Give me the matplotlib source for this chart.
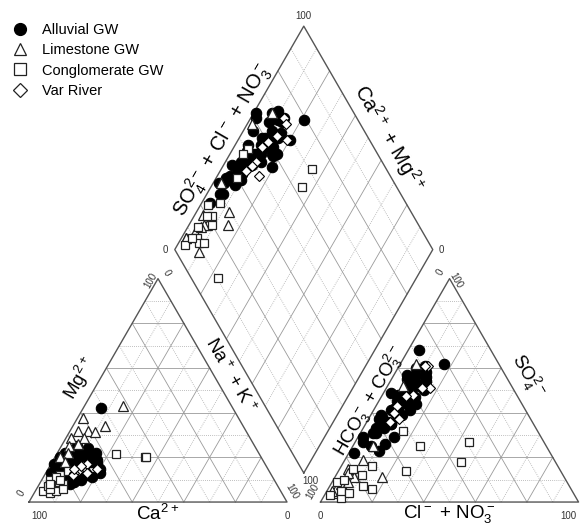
import numpy as np
import matplotlib.pyplot as plt
from matplotlib.lines import Line2D

plt.rcParams['font.family'] = ['Liberation Sans', 'DejaVu Sans']
plt.rcParams['mathtext.fontset'] = 'custom'
plt.rcParams['mathtext.rm'] = 'Liberation Sans'
plt.rcParams['mathtext.default'] = 'regular'

# compositions in meq %: Na+K, Mg, SO4, Cl (Ca and HCO3 are the rest)
alluvial_nak = [3, 4, 5, 6, 8, 5, 7, 10, 3, 9, 12, 6, 14, 4, 11, 16, 8, 13, 18, 7,
                2, 20, 15, 10, 1, 13, 21, 7, 12, 17, 9, 4, 19, 11, 2, 6, 15, 9, 5,
                8, 10, 12, 6, 9, 11, 13, 7, 10, 14, 8, 12, 9, 11, 6, 10, 13, 7, 15, 9]
alluvial_mg = [12, 15, 10, 20, 14, 18, 9, 13, 22, 17, 11, 25, 15, 16, 20, 12, 23, 9, 17, 19,
               20, 15, 10, 14, 17, 21, 13, 42, 8, 19, 11, 9, 11, 24, 13, 7, 22, 16, 12,
               15, 17, 14, 18, 19, 16, 13, 21, 12, 18, 16, 20, 13, 15, 17, 22, 16, 14, 18, 20]
alluvial_so4 = [22, 23, 27, 29, 29, 33, 35, 34, 37, 39, 41, 42, 45, 46, 48, 50, 50, 52, 53, 54,
                55, 56, 57, 58, 57, 68, 62, 36, 44, 47, 26, 31, 43, 38, 25, 40, 60, 61, 49,
                36, 44, 48, 31, 41, 53, 55, 33, 47, 51, 39, 45, 43, 57, 35, 49, 59, 38, 52, 46]
alluvial_cl = [2, 11, 3, 2, 14, 5, 10, 7, 4, 4, 14, 8, 8, 11, 6, 9, 15, 12, 8, 14,
               6, 13, 8, 12, 5, 4, 17, 6, 15, 12, 12, 5, 13, 11, 7, 9, 7, 10, 3,
               8, 9, 10, 6, 7, 11, 9, 8, 13, 10, 12, 7, 9, 12, 10, 8, 11, 5, 9, 13]

limestone_nak = [15, 12.5, 2, 7, 3, 2, 7, 3, 10, 4, 2, 6, 5]
limestone_mg = [43, 34, 37.5, 32, 32, 28.5, 28.5, 25, 31.5, 22, 20, 26, 18]
limestone_so4 = [19, 11, 4, 15, 25, 52, 62, 11, 6, 8, 5, 13, 9]
limestone_cl = [7, 18.5, 3, 3, 8, 6, 6, 7.5, 3, 4, 2, 4, 6]

conglo_nak = [3, 6, 8, 4, 7, 5, 9, 3, 23, 35, 35.5, 6, 8, 5, 4, 7, 10]
conglo_mg = [5, 4, 5, 7, 9, 6, 8, 10, 21.5, 20, 20, 12, 14, 11, 8, 10, 6]
conglo_so4 = [3, 5, 9, 2, 12, 7, 15, 6, 5, 27, 18, 25, 14, 32, 10, 16, 4]
conglo_cl = [2, 6, 2, 7, 10, 13, 5, 17, 5.5, 44, 45.5, 26, 26, 16, 4, 12, 9]

river_nak = [13, 19, 15, 14, 12, 11, 12, 11, 10, 16]
river_mg = [16, 15, 14, 17, 14, 13, 16, 12, 15, 13]
river_so4 = [61, 51, 61, 51, 48, 47.5, 43, 40, 36, 37]
river_cl = [11, 17, 10, 14, 12, 9.5, 8, 8.5, 9, 12]

GAP = 13.0
H = np.sqrt(3) / 2
X2 = 100 + GAP
BX, BY = 100 + GAP / 2, GAP * H


def cation_xy(nak, mg):
    nak, mg = np.asarray(nak, float), np.asarray(mg, float)
    return nak + mg / 2, mg * H


def anion_xy(so4, cl):
    so4, cl = np.asarray(so4, float), np.asarray(cl, float)
    return X2 + cl + so4 / 2, so4 * H


def diamond_xy(nak, so4, cl):
    m = (100 - np.asarray(nak, float)) / 100
    s = (np.asarray(so4, float) + np.asarray(cl, float)) / 100
    return BX - 50 * m + 50 * s, BY + 100 * H * (m + s)


def grid_style(i):
    if i % 2 == 0:
        return dict(color='#9a9a9a', lw=0.6, ls='-')
    return dict(color='#aaaaaa', lw=0.6, ls=(0, (1, 1.5)))


def draw_triangle(ax, x0):
    for i in range(1, 10):
        t = 10 * i
        st = grid_style(i)
        ax.plot([x0 + t / 2, x0 + 100 - t / 2], [t * H, t * H], **st, zorder=1)
        ax.plot([x0 + t, x0 + t + (100 - t) / 2], [0, (100 - t) * H], **st, zorder=1)
        ax.plot([x0 + t, x0 + t / 2], [0, t * H], **st, zorder=1)
    ax.plot([x0, x0 + 100, x0 + 50, x0], [0, 0, 100 * H, 0], color='#555555', lw=1.0, zorder=2)


def draw_diamond(ax):
    lx, ly = -50, 100 * H
    rx, ry = 50, 100 * H
    for i in range(1, 10):
        t = i / 10
        st = grid_style(i)
        ax.plot([BX + t * lx, BX + t * lx + rx], [BY + t * ly, BY + t * ly + ry], **st, zorder=1)
        ax.plot([BX + t * rx, BX + t * rx + lx], [BY + t * ry, BY + t * ry + ly], **st, zorder=1)
    ax.plot([BX, BX + lx, BX, BX + rx, BX], [BY, BY + ly, BY + 2 * ly, BY + ry, BY],
            color='#555555', lw=1.0, zorder=2)


fig = plt.figure(figsize=(5.81, 5.25), dpi=100)
ax = fig.add_axes([0, 0, 1, 1])
ax.set_xlim(-11.24, 213.95)
ax.set_ylim(-8.9, 194.6)
ax.axis('off')

draw_triangle(ax, 0)
draw_triangle(ax, X2)
draw_diamond(ax)

groups = [
    (alluvial_nak, alluvial_mg, alluvial_so4, alluvial_cl,
     dict(marker='o', ms=7.5, mfc='black', mec='black', mew=0.8), 3),
    (limestone_nak, limestone_mg, limestone_so4, limestone_cl,
     dict(marker='^', ms=7, mfc='white', mec='#222222', mew=0.9), 4),
    (conglo_nak, conglo_mg, conglo_so4, conglo_cl,
     dict(marker='s', ms=6, mfc='white', mec='#222222', mew=0.9), 5),
    (river_nak, river_mg, river_so4, river_cl,
     dict(marker='D', ms=5.5, mfc='white', mec='black', mew=0.8), 6),
]
for nak, mg, so4, cl, style, z in groups:
    for xy in (cation_xy(nak, mg), anion_xy(so4, cl), diamond_xy(nak, so4, cl)):
        ax.plot(*xy, ls='none', zorder=z, **style)

# tick labels at the vertices
tk = dict(fontsize=7, color='#333333', ha='center', va='center')
ax.text(BX, BY + 200 * H + 4, '100', **tk)
ax.text(BX - 50 - 3.5, BY + 100 * H, '0', **tk)
ax.text(BX + 50 + 3.5, BY + 100 * H, '0', **tk)
ax.text(4, -5.5, '100', **tk)
ax.text(100, -5.5, '0', **tk)
ax.text(-3, 3.5, '0', rotation=60, **tk)
ax.text(47, 86, '100', rotation=60, **tk)
ax.text(53.5, 89, '0', rotation=-60, **tk)
ax.text(102, 4, '100', rotation=-60, **tk)
ax.text(X2, -5.5, '0', **tk)
ax.text(X2 + 96, -5.5, '100', **tk)
ax.text(X2 - 3, 4, '100', rotation=60, **tk)
ax.text(X2 - 4, 8, '100', **tk)
ax.text(X2 + 46.5, 89, '0', rotation=60, **tk)
ax.text(X2 + 52.5, 86, '100', rotation=-60, **tk)

# axis titles
lab = dict(fontsize=13.5, ha='center', va='center')
ax.text(19.8, 48, r'Mg$^{2+}$', rotation=60, **lab)
ax.text(78, 49, r'Na$^+$ + K$^+$', rotation=-60, **lab)
ax.text(50, -4.6, r'Ca$^{2+}$', **lab)
ax.text(132, 39, r'HCO$_3^-$ + CO$_3^{2-}$', rotation=60, **lab)
ax.text(193, 49, r'SO$_4^{2-}$', rotation=-60, **lab)
ax.text(163, -4.6, r'Cl$^-$ + NO$_3^-$', **lab)
ax.text(75, 140.2, r'SO$_4^{2-}$ + Cl$^-$ + NO$_3^-$', rotation=60, fontsize=14.5,
        ha='center', va='center')
ax.text(139.5, 141, r'Ca$^{2+}$ + Mg$^{2+}$', rotation=-60, fontsize=14.5,
        ha='center', va='center')

handles = [
    Line2D([], [], ls='none', marker='o', ms=8.5, mfc='black', mec='black'),
    Line2D([], [], ls='none', marker='^', ms=9, mfc='white', mec='#222222', mew=0.9),
    Line2D([], [], ls='none', marker='s', ms=8, mfc='white', mec='#222222', mew=0.9),
    Line2D([], [], ls='none', marker='D', ms=7, mfc='white', mec='#222222', mew=0.9),
]
names = ['Alluvial GW', 'Limestone GW', 'Conglomerate GW', 'Var River']
ax.legend(handles, names, loc='upper left', bbox_to_anchor=(0.002, 0.975), frameon=False,
          fontsize=10.5, handlelength=1.2, handletextpad=0.9, labelspacing=0.42, borderpad=0.2)

fig.savefig('out.png', dpi=100)
